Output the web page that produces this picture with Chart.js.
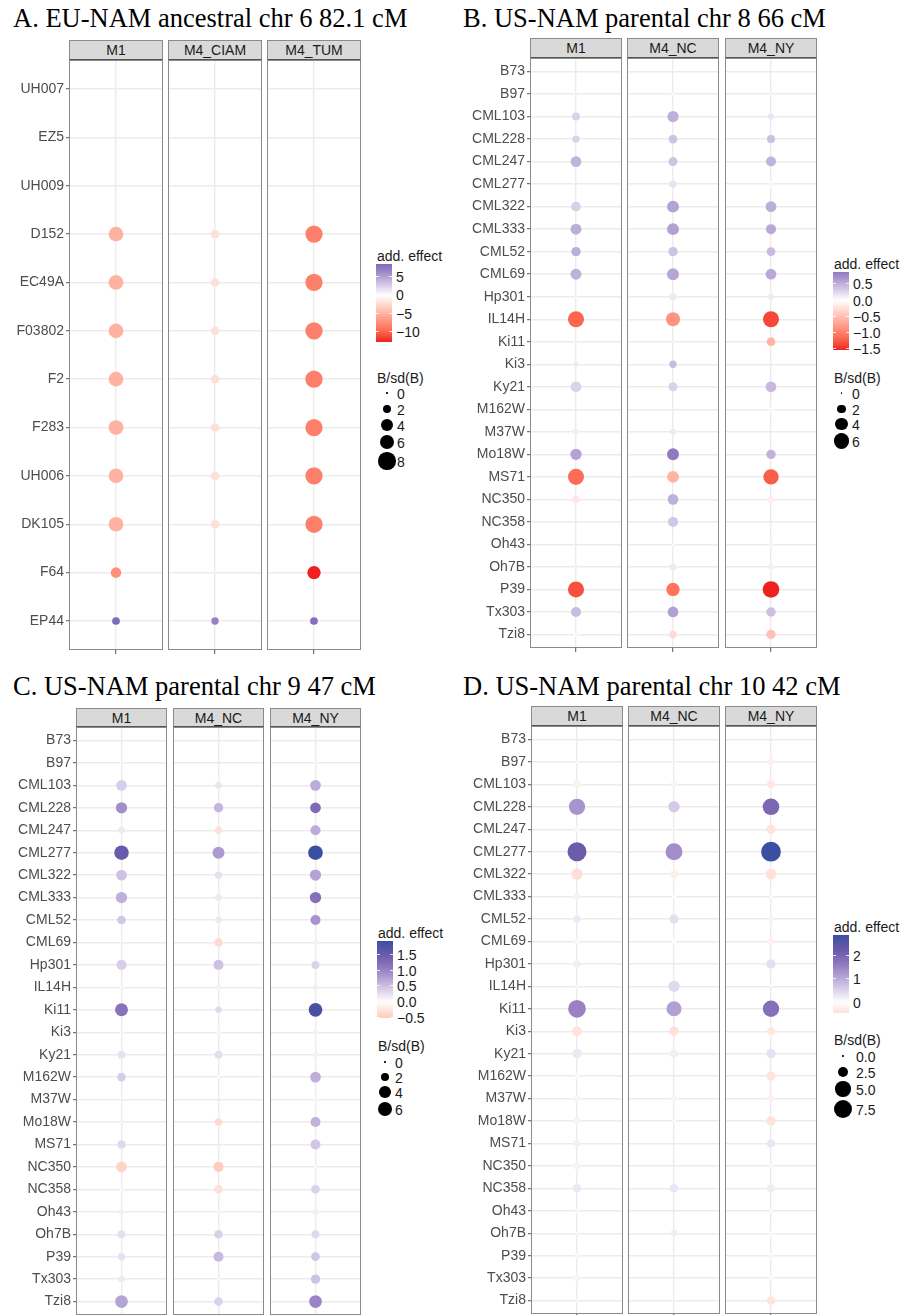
<!DOCTYPE html>
<html>
<head>
<meta charset="utf-8">
<script src="https://cdn.jsdelivr.net/npm/chart.js@4.4.1/dist/chart.umd.min.js"></script>
<style>
body{margin:0;background:#fff}
#fig{position:relative;width:902px;height:1315px;overflow:hidden;background:#fff;font-family:"Liberation Sans",Arial,sans-serif}
.title{position:absolute;font-family:"Liberation Serif",serif;font-size:26.5px;line-height:26.5px;white-space:nowrap;color:#000}
.strip{position:absolute;box-sizing:border-box;background:#d9d9d9;border:1px solid #8a8a8a;border-bottom-color:#555;font-size:14px;line-height:18px;color:#1a1a1a;text-align:center}
canvas{position:absolute}
.lg{position:absolute;font-size:14px;line-height:14px;color:#1a1a1a;white-space:nowrap}
</style>
</head>
<body>
<div id="fig"></div>
<script>
// categories (founder lines)
var euLines = ["UH007","EZ5","UH009","D152","EC49A","F03802","F2","F283","UH006","DK105","F64","EP44"];
var namLines = ["B73","B97","CML103","CML228","CML247","CML277","CML322","CML333","CML52","CML69","Hp301","IL14H","Ki11",
  "Ki3","Ky21","M162W","M37W","Mo18W","MS71","NC350","NC358","Oh43","Oh7B","P39","Tx303","Tzi8"];

var euFacets = ["M1","M4_CIAM","M4_TUM"];
var usFacets = ["M1","M4_NC","M4_NY"];

// A. EU-NAM chr 6 : additive effect and B/sd(B)
var aM1Eff   = [0,0,0,-5.1,-5.1,-5.1,-5.1,-5.1,-5.1,-5.1,-7.3,8.4];
var aM1Bsd   = [0,0,0,5.8,5.8,5.8,5.8,5.8,5.8,5.8,3.0,1.6];
var aCiamEff = [0,0,0,-2.1,-2.1,-2.1,-2.1,-2.1,-2.1,-2.1,-0.5,6.7];
var aCiamBsd = [0,0,0,2.0,2.0,2.0,2.0,2.0,2.0,2.0,0.05,1.45];
var aTumEff  = [0,0,0,-8.3,-8.3,-8.3,-8.3,-8.3,-8.3,-8.3,-12.8,8.0];
var aTumBsd  = [0,0,0,8.0,8.0,8.0,8.0,8.0,8.0,8.0,4.8,1.6];

// B. US-NAM chr 8
var bM1Eff = [0,0,0.28,0.28,0.48,0.02,0.3,0.52,0.52,0.5,0.02,-1.2,-0.05,0.13,0.28,0,0.1,0.59,-1.15,-0.2,0,0,0.08,-1.33,0.42,-0.08];
var bM1Bsd = [0,0.05,1.7,1.4,3.0,0.05,2.4,3.1,2.3,3.1,0.1,6.7,0.1,0.65,3.0,0,0.94,3.3,6.7,1.4,0,0,0.74,6.7,2.6,0.57];
var bNcEff = [0,0.04,0.5,0.38,0.38,0.18,0.59,0.6,0.38,0.57,0.13,-0.85,0,0.42,0.28,0,0.13,0.87,-0.6,0.5,0.35,-0.03,0.13,-1.1,0.6,-0.3];
var bNcBsd = [0,0.42,3.3,2.0,2.1,1.4,3.7,3.7,2.3,3.7,1.4,5.1,0.05,1.4,2.1,0,0.94,3.7,3.7,3.0,2.6,0.2,1.15,4.6,3.0,1.4];
var bNyEff = [0,0.02,0.17,0.4,0.48,-0.08,0.52,0.55,0.44,0.55,0.13,-1.38,-0.6,0,0.44,-0.06,0,0.48,-1.25,-0.15,0,0.07,0.1,-1.55,0.4,-0.5];
var bNyBsd = [0,0.1,0.94,1.7,2.6,0.57,3.0,2.6,2.0,3.0,0.94,6.7,2.0,0,3.0,0.57,0,2.3,6.1,0.94,0,0.57,0.94,7.2,2.3,2.3];

// C. US-NAM chr 9
var cM1Eff = [0,0.03,0.38,0.91,0.17,1.5,0.48,0.63,0.45,0.02,0.38,0.05,1.18,0.07,0.23,0.4,0.02,0.1,0.3,-0.45,-0.08,0.13,0.25,0.24,0.17,0.73];
var cM1Bsd = [0,0.1,3.4,3.8,1.3,6.2,3.4,3.8,2.2,0.05,3.0,0.2,5.0,0.48,1.9,2.2,0.05,0.84,2.2,3.4,0.5,0.84,1.9,1.6,1.3,4.8];
var cNcEff = [0,0,0.21,0.58,-0.3,0.81,0.25,0.18,0.18,-0.38,0.48,0.1,0.3,-0.12,0.27,-0.08,0,-0.38,0,-0.53,-0.32,0.02,0.37,0.55,-0.05,0.37];
var cNcBsd = [0,0,1.3,2.6,1.6,4.3,1.6,1.3,1.3,2.2,3.0,0.84,1.3,0.65,1.9,0.48,0,1.6,0,3.0,2.2,0.1,2.2,3.0,0.2,2.2];
var cNyEff = [0,0.02,0.66,1.28,0.66,1.94,0.73,1.2,0.86,0.1,0.34,0.13,1.85,0.1,0.1,0.64,0.08,0.61,0.45,-0.06,0.37,0.13,0.3,0.45,0.48,0.99];
var cNyBsd = [0,0.1,3.4,3.4,3.0,6.3,3.8,3.8,3.0,0.84,1.9,1.0,5.6,0.84,1.0,3.4,0.84,3.0,3.0,0.3,2.2,1.0,1.9,2.2,2.6,4.8];

// D. US-NAM chr 10
var dM1Eff = [0,-0.08,-0.22,1.27,-0.12,2.2,-0.47,0.15,0.26,-0.12,0.19,-0.1,1.49,-0.42,0.26,-0.1,-0.18,-0.2,0.17,-0.2,0.26,-0.12,0,-0.15,-0.18,-0.02];
var dM1Bsd = [0,0.2,1.4,5.7,0.78,7.8,2.8,0.96,1.2,0.78,1.2,0.2,6.8,2.2,1.9,0.6,0.96,1.2,0.96,1.2,1.6,0.6,0.1,0.78,0.96,0.1];
var dNcEff = [0,0,-0.2,0.6,0,1.34,-0.25,-0.06,0.37,0.05,0,0.45,1.12,-0.45,0.19,0,-0.18,-0.1,0,0,0.3,0,0.19,0,0,0];
var dNcBsd = [0,0.05,0.96,2.8,0.05,6.25,1.4,0.47,1.9,0.6,0,2.8,4.9,1.9,1.4,0,0.96,0.47,0,0,1.6,0,0.96,0,0,0.05];
var dNyEff = [0,-0.22,-0.35,1.95,-0.42,2.87,-0.45,0.02,0.15,-0.2,0.37,0,1.8,-0.38,0.34,-0.42,-0.22,-0.44,0.3,-0.1,0.22,-0.12,0.02,-0.15,-0.1,-0.4];
var dNyBsd = [0,0.96,1.4,6.0,1.9,8.4,2.5,0.3,0.6,0.96,1.9,0.1,5.8,1.4,1.9,1.9,0.96,1.9,1.4,0.3,1.4,0.47,0.3,0.6,0.47,1.6];

// legend breaks
var aColTicks = [5,0,-5,-10],       aColLabels = ["5","0","\u22125","\u221210"];
var bColTicks = [0.5,0,-0.5,-1,-1.5], bColLabels = ["0.5","0.0","\u22120.5","\u22121.0","\u22121.5"];
var cColTicks = [1.5,1,0.5,0,-0.5], cColLabels = ["1.5","1.0","0.5","0.0","\u22120.5"];
var dColTicks = [2,1,0],            dColLabels = ["2","1","0"];
var aSizeTicks = [0,2,4,6,8], aSizeLabels = ["0","2","4","6","8"];
var bSizeTicks = [0,2,4,6],   bSizeLabels = ["0","2","4","6"];
var cSizeTicks = [0,2,4,6],   cSizeLabels = ["0","2","4","6"];
var dSizeTicks = [0,2.5,5,7.5], dSizeLabels = ["0.0","2.5","5.0","7.5"];

// colour scale (white mid, red low, purple/blue high), interpolated in Lab
var negStops = [[0,"#ffffff"],[1,"#ee2020"]];
var posStops = [[0,"#ffffff"],[0.56,"#9079bf"],[0.77,"#6b5aab"],[1,"#3b4fa1"]];

function hex2rgb(h){ return [parseInt(h.substr(1,2),16),parseInt(h.substr(3,2),16),parseInt(h.substr(5,2),16)]; }
function rgb2lab(c){
  var r = c.map(function(v){ v/=255; return v>0.04045 ? Math.pow((v+0.055)/1.055,2.4) : v/12.92; });
  var x = (r[0]*0.4124+r[1]*0.3576+r[2]*0.1805)/0.95047;
  var y = (r[0]*0.2126+r[1]*0.7152+r[2]*0.0722);
  var z = (r[0]*0.0193+r[1]*0.1192+r[2]*0.9505)/1.08883;
  var f = function(t){ return t>0.008856 ? Math.cbrt(t) : 7.787*t+16/116; };
  var fx=f(x), fy=f(y), fz=f(z);
  return [116*fy-16, 500*(fx-fy), 200*(fy-fz)];
}
function lab2hex(l){
  var fy=(l[0]+16)/116, fx=fy+l[1]/500, fz=fy-l[2]/200;
  var g = function(t){ var t3=t*t*t; return t3>0.008856 ? t3 : (t-16/116)/7.787; };
  var x=g(fx)*0.95047, y=g(fy), z=g(fz)*1.08883;
  var r = [x*3.2406-y*1.5372-z*0.4986, -x*0.9689+y*1.8758+z*0.0415, x*0.0557-y*0.2040+z*1.0570];
  return "#" + r.map(function(v){
    v = v>0.0031308 ? 1.055*Math.pow(v,1/2.4)-0.055 : 12.92*v;
    var n = Math.round(Math.max(0,Math.min(1,v))*255);
    return (n<16?"0":"") + n.toString(16);
  }).join("");
}
function effColour(v, M){
  var s = v/M, stops = s<0 ? negStops : posStops;
  var a = Math.min(1, Math.abs(s));
  for (var i=1;i<stops.length;i++){
    if (a <= stops[i][0] || i==stops.length-1){
      var t = (a-stops[i-1][0])/(stops[i][0]-stops[i-1][0]);
      var l0 = rgb2lab(hex2rgb(stops[i-1][1])), l1 = rgb2lab(hex2rgb(stops[i][1]));
      return lab2hex([l0[0]+(l1[0]-l0[0])*t, l0[1]+(l1[1]-l0[1])*t, l0[2]+(l1[2]-l0[2])*t]);
    }
  }
}

var panels = [
  {title:"A. EU-NAM ancestral chr 6 82.1 cM", tx:13, ty:4.8, cats:euLines, facets:euFacets,
   eff:[aM1Eff,aCiamEff,aTumEff], bsd:[aM1Bsd,aCiamBsd,aTumBsd],
   strip:[40,60], plot:[60,650], axisLeft:0, box:[[69,163],[168,262],[267,361]], k:3.05,
   colTicks:aColTicks, colLabels:aColLabels, sizeTicks:aSizeTicks, sizeLabels:aSizeLabels,
   lg:{x:376, barTop:264, barBot:342, sizeTitle:377, dotX:387, labX:397, dotY:[393,409,425,442,461]}},
  {title:"B. US-NAM parental chr 8 66 cM", tx:463, ty:4.8, cats:namLines, facets:usFacets,
   eff:[bM1Eff,bNcEff,bNyEff], bsd:[bM1Bsd,bNcBsd,bNyBsd],
   strip:[38,58], plot:[58,648], axisLeft:450, box:[[530,622],[627,719],[725,817]], k:3.1,
   colTicks:bColTicks, colLabels:bColLabels, sizeTicks:bSizeTicks, sizeLabels:bSizeLabels,
   lg:{x:833, barTop:272, barBot:350, sizeTitle:377, dotX:841.5, labX:852, dotY:[393,409,424,441]}},
  {title:"C. US-NAM parental chr 9 47 cM", tx:13, ty:672.8, cats:namLines, facets:usFacets,
   eff:[cM1Eff,cNcEff,cNyEff], bsd:[cM1Bsd,cNcBsd,cNyBsd],
   strip:[708,727], plot:[727,1315], axisLeft:0, box:[[76,167],[173,264],[270,361]], k:2.9,
   colTicks:cColTicks, colLabels:cColLabels, sizeTicks:cSizeTicks, sizeLabels:cSizeLabels,
   lg:{x:377, barTop:941, barBot:1018, sizeTitle:1045, dotX:385, labX:395, dotY:[1062,1077,1092,1109]}},
  {title:"D. US-NAM parental chr 10 42 cM", tx:463, ty:672.8, cats:namLines, facets:usFacets,
   eff:[dM1Eff,dNcEff,dNyEff], bsd:[dM1Bsd,dNcBsd,dNyBsd],
   strip:[706,726], plot:[726,1314], axisLeft:450, box:[[531,623],[628,720],[725,817]], k:3.4,
   colTicks:dColTicks, colLabels:dColLabels, sizeTicks:dSizeTicks, sizeLabels:dSizeLabels,
   lg:{x:833, barTop:935, barBot:1013, sizeTitle:1039, dotX:843, labX:856, dotY:[1056,1072,1089,1109]}}
];

var fig = document.getElementById("fig");
Chart.defaults.font.family = "Liberation Sans";

var frame = {
  id: "frame",
  afterDraw: function(c){
    var a = c.chartArea, x = c.ctx;
    x.save();
    x.strokeStyle = "#8a8a8a";
    x.lineWidth = 1;
    x.strokeRect(a.left+0.5, a.top+0.5, a.right-a.left-1, a.bottom-a.top-1);
    x.restore();
  }
};

function addDiv(cls, text, css){
  var d = document.createElement("div");
  d.className = cls;
  if (text !== null) d.textContent = text;
  for (var k in css) d.style[k] = css[k];
  fig.appendChild(d);
  return d;
}

function noPad(s){ s.paddingTop = 0; s.paddingBottom = 0; s.paddingLeft = 0; s.paddingRight = 0; }

function facetChart(p, fi, lim){
  var b = p.box[fi], showY = fi == 0;
  var left = showY ? p.axisLeft : b[0];
  var w = b[1]-left, h = p.plot[1]-p.plot[0]+5;
  var cv = document.createElement("canvas");
  cv.width = w; cv.height = h;
  cv.style.left = left+"px"; cv.style.top = p.plot[0]+"px";
  cv.style.width = w+"px"; cv.style.height = h+"px";
  fig.appendChild(cv);
  var cats = p.cats;
  new Chart(cv.getContext("2d"), {
    type: "scatter",
    data: {
      datasets: [{
        data: cats.map(function(c,i){ return {x:0, y:i}; }),
        pointRadius: p.bsd[fi].map(function(v){ return p.k*Math.sqrt(v); }),
        pointBackgroundColor: p.eff[fi].map(function(v){ return effColour(v, lim.M); }),
        pointBorderWidth: 0,
        pointBorderColor: "rgba(0,0,0,0)"
      }]
    },
    options: {
      animation: false, responsive: false, events: [],
      layout: {padding: 0, autoPadding: false},
      plugins: {legend: {display:false}, tooltip: {enabled:false}},
      scales: {
        x: {
          type: "linear", min: -0.6, max: 0.6,
          afterBuildTicks: function(s){ s.ticks = [{value:0}]; },
          afterFit: function(s){ s.height = 5; noPad(s); },
          ticks: {display: false},
          grid: {color:"#ececec", lineWidth:1.4, drawTicks:true, tickLength:4, tickColor:"#555", tickWidth:1},
          border: {display:false}
        },
        y: {
          type: "linear", reverse: true, min: -0.6, max: cats.length-0.4,
          afterBuildTicks: function(s){ s.ticks = cats.map(function(c,i){ return {value:i}; }); },
          afterFit: function(s){ s.width = showY ? (b[0]-left) : 0; noPad(s); },
          ticks: {display: showY, autoSkip: false, padding: 2, color: "#4d4d4d",
                  font: {size: 14, family: "Liberation Sans"},
                  callback: function(v){ return cats[Math.round(v)]; }},
          grid: {color:"#ececec", lineWidth:1.4, drawTicks:showY, tickLength:3, tickColor:"#555", tickWidth:1},
          border: {display:false}
        }
      }
    },
    plugins: [frame]
  });
}

function drawLegend(p, lim){
  var g = p.lg, H = g.barBot-g.barTop, W = 16;
  addDiv("lg", "add. effect", {left:(g.x+1)+"px", top:(g.barTop-3.5-11.5)+"px"});
  var stops = [];
  for (var i=0;i<=30;i++){
    var v = lim.max - (lim.max-lim.min)*i/30;
    stops.push(effColour(v, lim.M) + " " + (i/30*100).toFixed(1) + "%");
  }
  addDiv("lg", null, {left:g.x+"px", top:g.barTop+"px", width:W+"px", height:H+"px",
    background:"linear-gradient(to bottom," + stops.join(",") + ")"});
  p.colTicks.forEach(function(t,i){
    var y = g.barTop + (lim.max-t)/(lim.max-lim.min)*H;
    addDiv("lg", null, {left:g.x+"px", top:(y-0.5)+"px", width:"3px", height:"1px", background:"rgba(255,255,255,0.8)"});
    addDiv("lg", null, {left:(g.x+W-3)+"px", top:(y-0.5)+"px", width:"3px", height:"1px", background:"rgba(255,255,255,0.8)"});
    addDiv("lg", p.colLabels[i], {left:(g.x+20)+"px", top:(y-6.5)+"px"});
  });
  addDiv("lg", "B/sd(B)", {left:(g.x+1)+"px", top:(g.sizeTitle-6.5)+"px"});
  p.sizeTicks.forEach(function(t,i){
    var r = Math.max(0.7, p.k*Math.sqrt(t)), y = g.dotY[i];
    addDiv("lg", null, {left:(g.dotX-r)+"px", top:(y-r)+"px", width:(2*r)+"px", height:(2*r)+"px",
      borderRadius:"50%", background:"#000"});
    addDiv("lg", p.sizeLabels[i], {left:g.labX+"px", top:(y-6.5)+"px"});
  });
}

panels.forEach(function(p){
  var all = [].concat(p.eff[0], p.eff[1], p.eff[2]);
  var lim = {min: Math.min.apply(null, all), max: Math.max.apply(null, all)};
  lim.M = Math.max(Math.abs(lim.min), Math.abs(lim.max));
  addDiv("title", p.title, {left:p.tx+"px", top:p.ty+"px"});
  p.box.forEach(function(b, fi){
    addDiv("strip", p.facets[fi], {left:b[0]+"px", top:p.strip[0]+"px", width:(b[1]-b[0])+"px", height:(p.strip[1]-p.strip[0])+"px"});
    facetChart(p, fi, lim);
  });
  drawLegend(p, lim);
});
</script>
</body>
</html>
